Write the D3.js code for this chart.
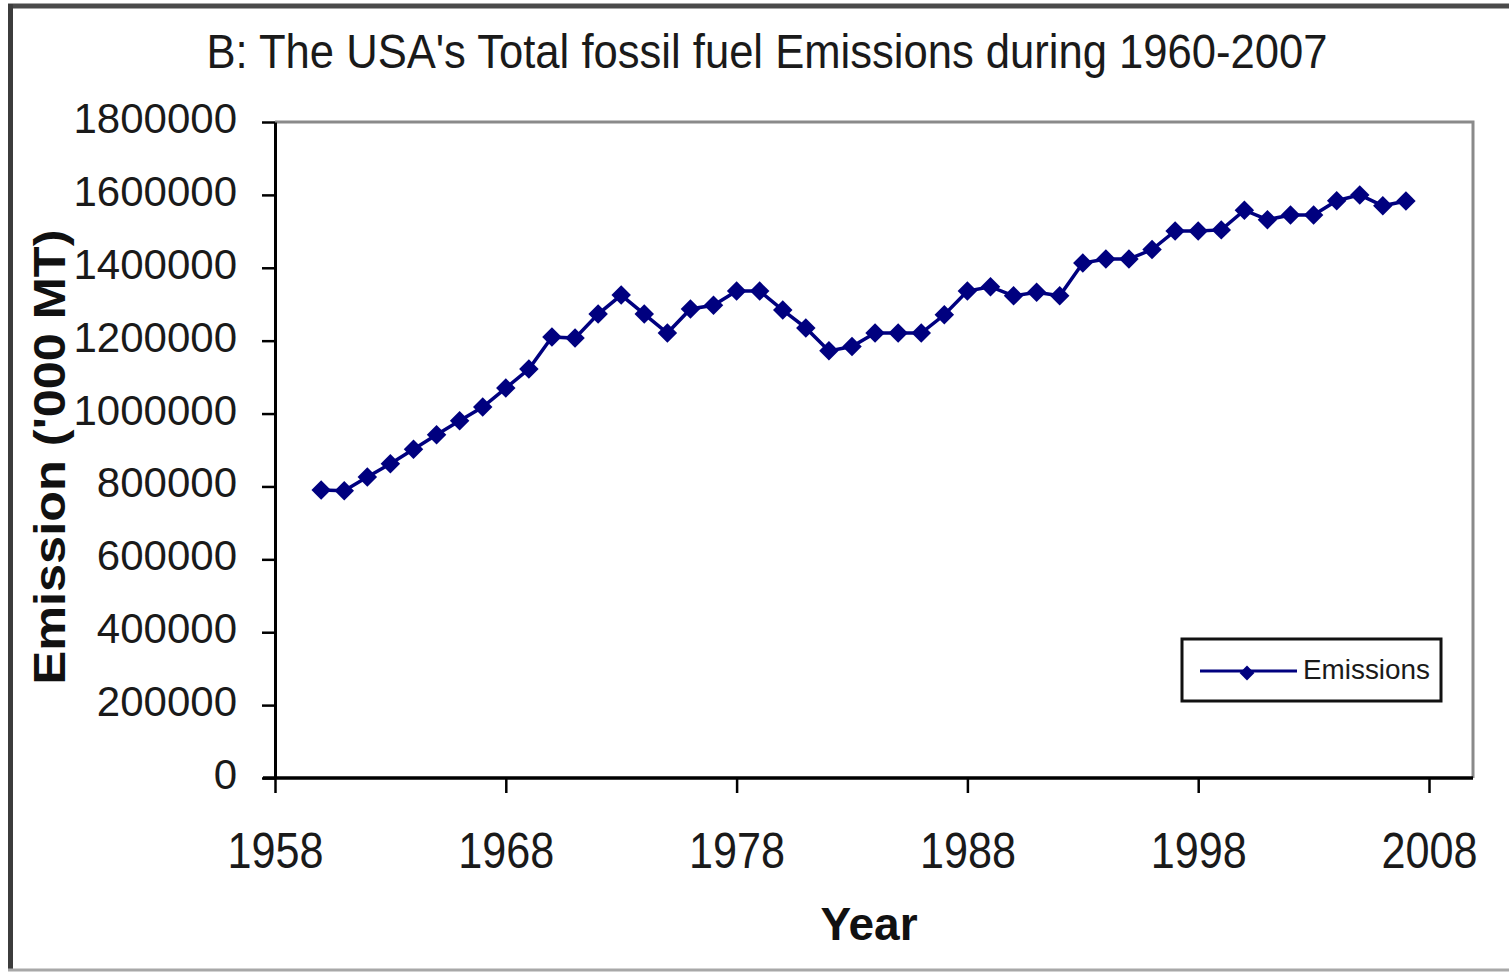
<!DOCTYPE html>
<html>
<head>
<meta charset="utf-8">
<script src="https://cdn.jsdelivr.net/npm/d3@7"></script>
<style>
  html, body { margin: 0; padding: 0; background: #ffffff; }
  svg { display: block; font-family: "Liberation Sans", Arial, sans-serif; }
</style>
</head>
<body>
<svg id="chart" width="1509" height="973"></svg>
<script>
// US total fossil fuel emissions, thousand metric tonnes
const years = [
  1960, 1961, 1962, 1963, 1964, 1965, 1966, 1967, 1968, 1969,
  1970, 1971, 1972, 1973, 1974, 1975, 1976, 1977, 1978, 1979,
  1980, 1981, 1982, 1983, 1984, 1985, 1986, 1987, 1988, 1989,
  1990, 1991, 1992, 1993, 1994, 1995, 1996, 1997, 1998, 1999,
  2000, 2001, 2002, 2003, 2004, 2005, 2006, 2007
];
const emissions = [
  790000, 788000, 826000, 862000, 902000, 942000, 980000, 1018000, 1070000, 1122000,
  1210000, 1207000, 1273000, 1325000, 1273000, 1221000, 1287000, 1297000, 1336000, 1336000,
  1284000, 1235000, 1172000, 1184000, 1221000, 1221000, 1221000, 1271000, 1336000, 1348000,
  1323000, 1333000, 1323000, 1413000, 1424000, 1424000, 1450000, 1501000, 1501000, 1504000,
  1558000, 1532000, 1545000, 1545000, 1584000, 1600000, 1570000, 1583000
];
const xTicks = [1958, 1968, 1978, 1988, 1998, 2008];
const yTicks = [0, 200000, 400000, 600000, 800000, 1000000, 1200000, 1400000, 1600000, 1800000];

const titleText = "B: The USA's Total fossil fuel Emissions during 1960-2007";
const xTitle = "Year";
const yTitle = "Emission ('000 MT)";
const seriesName = "Emissions";

const svg = d3.select("#chart");
const navy = "#00007f";

// outer frame of the figure
svg.append("line").attr("x1", 8).attr("x2", 1509).attr("y1", 6).attr("y2", 6)
  .attr("stroke", "#4a4a4a").attr("stroke-width", 5);
svg.append("line").attr("x1", 10.5).attr("x2", 10.5).attr("y1", 4).attr("y2", 970)
  .attr("stroke", "#3c3c3c").attr("stroke-width", 5);
svg.append("line").attr("x1", 8).attr("x2", 1509).attr("y1", 970).attr("y2", 970)
  .attr("stroke", "#a8a8a8").attr("stroke-width", 3);

const plot = { left: 275, right: 1473, top: 122, bottom: 778 };

const x = d3.scaleLinear().domain([1958, 2008]).range([275, 1429]);
const y = d3.scaleLinear().domain([0, 1800000]).range([plot.bottom, plot.top]);

// plot frame (top and right edges)
svg.append("path")
  .attr("d", `M${plot.left},${plot.top}H${plot.right}V${plot.bottom}`)
  .attr("fill", "none").attr("stroke", "#8a8a8a").attr("stroke-width", 3);

// y axis
const yAxis = svg.append("g")
  .attr("transform", `translate(${plot.left},0)`)
  .call(d3.axisLeft(y).tickValues(yTicks).tickFormat(d3.format("d"))
    .tickSize(13).tickSizeOuter(0).tickPadding(25));
yAxis.select(".domain").attr("stroke", "#000").attr("stroke-width", 3);
yAxis.selectAll(".tick line").attr("stroke", "#000").attr("stroke-width", 2.5);
yAxis.selectAll(".tick text")
  .attr("font-size", 42).attr("fill", "#1a1a1a").attr("dy", "0.25em")
  .attr("font-family", "Liberation Sans, Arial, sans-serif");

// x axis
const xAxis = svg.append("g")
  .attr("transform", `translate(0,${plot.bottom})`)
  .call(d3.axisBottom(x).tickValues(xTicks).tickFormat(d3.format("d"))
    .tickSize(15).tickSizeOuter(0).tickPadding(39));
xAxis.select(".domain").attr("d", `M${plot.left - 12},0H${plot.right}`)
  .attr("stroke", "#000").attr("stroke-width", 3.5);
xAxis.selectAll(".tick line").attr("stroke", "#000").attr("stroke-width", 2.5);
xAxis.selectAll(".tick text")
  .attr("font-size", 50).attr("fill", "#1a1a1a")
  .attr("textLength", 96).attr("lengthAdjust", "spacingAndGlyphs")
  .attr("font-family", "Liberation Sans, Arial, sans-serif");

// series line and diamond markers
const data = years.map((yr, i) => ({ year: yr, value: emissions[i] }));

svg.append("path")
  .datum(data)
  .attr("fill", "none")
  .attr("stroke", navy)
  .attr("stroke-width", 3.5)
  .attr("d", d3.line().x(d => x(d.year)).y(d => y(d.value)));

const diamond = d3.symbol().type(d3.symbolSquare).size(190);
svg.append("g").selectAll("path")
  .data(data)
  .join("path")
  .attr("d", diamond)
  .attr("transform", d => `translate(${x(d.year)},${y(d.value)}) rotate(45)`)
  .attr("fill", navy);

// title
svg.append("text")
  .attr("x", 767).attr("y", 68)
  .attr("text-anchor", "middle")
  .attr("font-size", 48)
  .attr("fill", "#1a1a1a")
  .attr("textLength", 1121).attr("lengthAdjust", "spacingAndGlyphs")
  .text(titleText);

// axis titles
svg.append("text")
  .attr("x", 869).attr("y", 940)
  .attr("text-anchor", "middle")
  .attr("font-size", 46).attr("font-weight", "bold")
  .attr("fill", "#111")
  .text(xTitle);

svg.append("text")
  .attr("transform", "translate(65,457) rotate(-90)")
  .attr("text-anchor", "middle")
  .attr("font-size", 44).attr("font-weight", "bold")
  .attr("fill", "#111")
  .attr("textLength", 455).attr("lengthAdjust", "spacingAndGlyphs")
  .text(yTitle);

// legend
const legend = svg.append("g");
legend.append("rect")
  .attr("x", 1182).attr("y", 639).attr("width", 259).attr("height", 62)
  .attr("fill", "#fff").attr("stroke", "#111").attr("stroke-width", 3);
legend.append("line")
  .attr("x1", 1200).attr("x2", 1297).attr("y1", 671).attr("y2", 671)
  .attr("stroke", navy).attr("stroke-width", 3);
legend.append("path")
  .attr("d", d3.symbol().type(d3.symbolSquare).size(110))
  .attr("transform", "translate(1247,673) rotate(45)")
  .attr("fill", navy);
legend.append("text")
  .attr("x", 1303).attr("y", 679)
  .attr("font-size", 27)
  .attr("fill", "#1a1a1a")
  .attr("textLength", 127).attr("lengthAdjust", "spacingAndGlyphs")
  .text(seriesName);
</script>
</body>
</html>
